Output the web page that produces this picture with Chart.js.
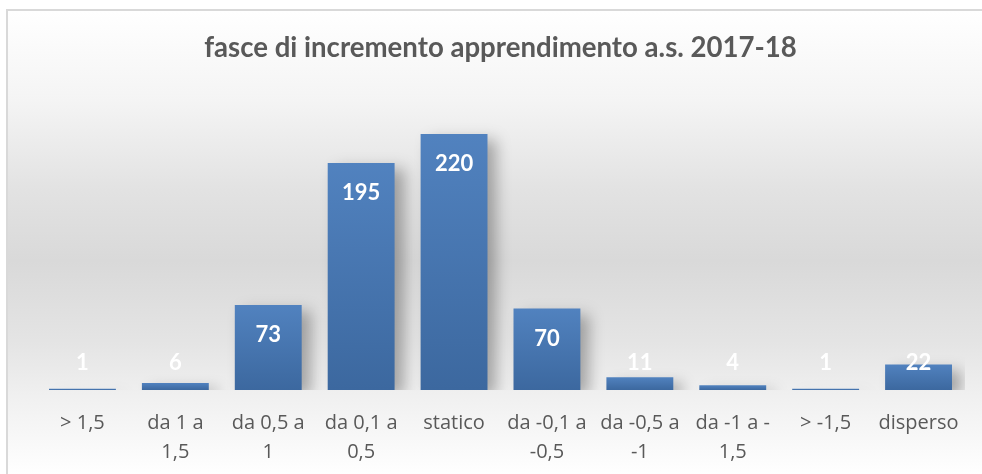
<!DOCTYPE html>
<html>
<head>
<meta charset="utf-8">
<script src="https://cdn.jsdelivr.net/npm/chart.js@4.4.1/dist/chart.umd.min.js"></script>
<style>
  html, body { margin: 0; padding: 0; background: #fff; overflow: hidden; }
  #frame {
    position: absolute; left: 6px; top: 9px; width: 1000px; height: 500px;
    border-left: 2px solid #d9d9d9; border-top: 2px solid #d9d9d9;
    background: linear-gradient(to bottom, #ffffff 0px, #f4f4f4 90px, #e2e2e2 180px, #d9d9d9 250px, #e4e4e4 330px, #f1f1f1 390px, #ffffff 465px);
  }
  #wrap { position: absolute; left: 0; top: 0; width: 982px; height: 474px; }
</style>
</head>
<body>
<div id="frame"></div>
<div id="wrap"><canvas id="grafico" width="982" height="474"></canvas></div>
<script>
const titolo = 'fasce di incremento apprendimento a.s. 2017-18';
const fasce = [
  ['> 1,5'], ['da 1 a', '1,5'], ['da 0,5 a', '1'], ['da 0,1 a', '0,5'], ['statico'],
  ['da -0,1 a', '-0,5'], ['da -0,5 a', '-1'], ['da -1 a -', '1,5'], ['> -1,5'], ['disperso']
];
const studenti = [1, 6, 73, 195, 220, 70, 11, 4, 1, 22];
const asseMax = 250;

const fontTitolo = "Lato, 'Open Sans', sans-serif";
const fontAssi = "'Open Sans', 'Noto Sans', sans-serif";

// ombra morbida sotto le barre
const ombra = {
  id: 'ombra',
  beforeDatasetsDraw(chart) {
    const ctx = chart.ctx;
    ctx.save();
    ctx.shadowColor = 'rgba(0,0,0,0.30)';
    ctx.shadowBlur = 14;
    ctx.shadowOffsetX = 9;
    ctx.shadowOffsetY = 6;
  },
  afterDatasetsDraw(chart) {
    chart.ctx.restore();
  }
};

// etichette dei valori, bianche dentro la cima della barra
const etichette = {
  id: 'etichette',
  afterDraw(chart) {
    const ctx = chart.ctx;
    const meta = chart.getDatasetMeta(0);
    ctx.save();
    ctx.fillStyle = '#ffffff';
    ctx.font = "bold 22px " + fontTitolo;
    ctx.textAlign = 'center';
    ctx.textBaseline = 'middle';
    meta.data.forEach((bar, i) => {
      const y = Math.min(bar.y + 30, bar.base - 27);
      ctx.fillText(String(studenti[i]), bar.x, y);
    });
    ctx.restore();
  }
};

function coloreBarra(c) {
  const chart = c.chart;
  const area = chart.chartArea;
  if (!area || c.raw === undefined) return '#4a78b2';
  const y = chart.scales.y;
  const top = y.getPixelForValue(c.raw);
  const bottom = y.getPixelForValue(0);
  const g = chart.ctx.createLinearGradient(0, top, 0, Math.max(bottom, top + 1));
  g.addColorStop(0, '#5182bf');
  g.addColorStop(1, '#3c689f');
  return g;
}

new Chart(document.getElementById('grafico'), {
  type: 'bar',
  data: {
    labels: fasce,
    datasets: [{
      data: studenti,
      backgroundColor: coloreBarra,
      borderWidth: 0,
      barPercentage: 0.72,
      categoryPercentage: 1
    }]
  },
  options: {
    responsive: false,
    animation: false,
    layout: { padding: { left: 36, right: 17, top: 0, bottom: -12 } },
    plugins: {
      legend: { display: false },
      tooltip: { enabled: false },
      title: {
        display: true,
        text: titolo,
        color: '#595959',
        font: { family: fontTitolo, size: 27.6, weight: 'bold' },
        padding: { top: 32, bottom: 34 }
      }
    },
    scales: {
      x: {
        grid: { display: false, drawTicks: false },
        border: { display: false },
        ticks: {
          color: '#595959',
          padding: 19,
          maxRotation: 0,
          autoSkip: false,
          font: { family: fontAssi, size: 20, lineHeight: 1.45 }
        }
      },
      y: {
        display: false,
        min: 0,
        max: asseMax
      }
    }
  },
  plugins: [ombra, etichette]
});
</script>
</body>
</html>
